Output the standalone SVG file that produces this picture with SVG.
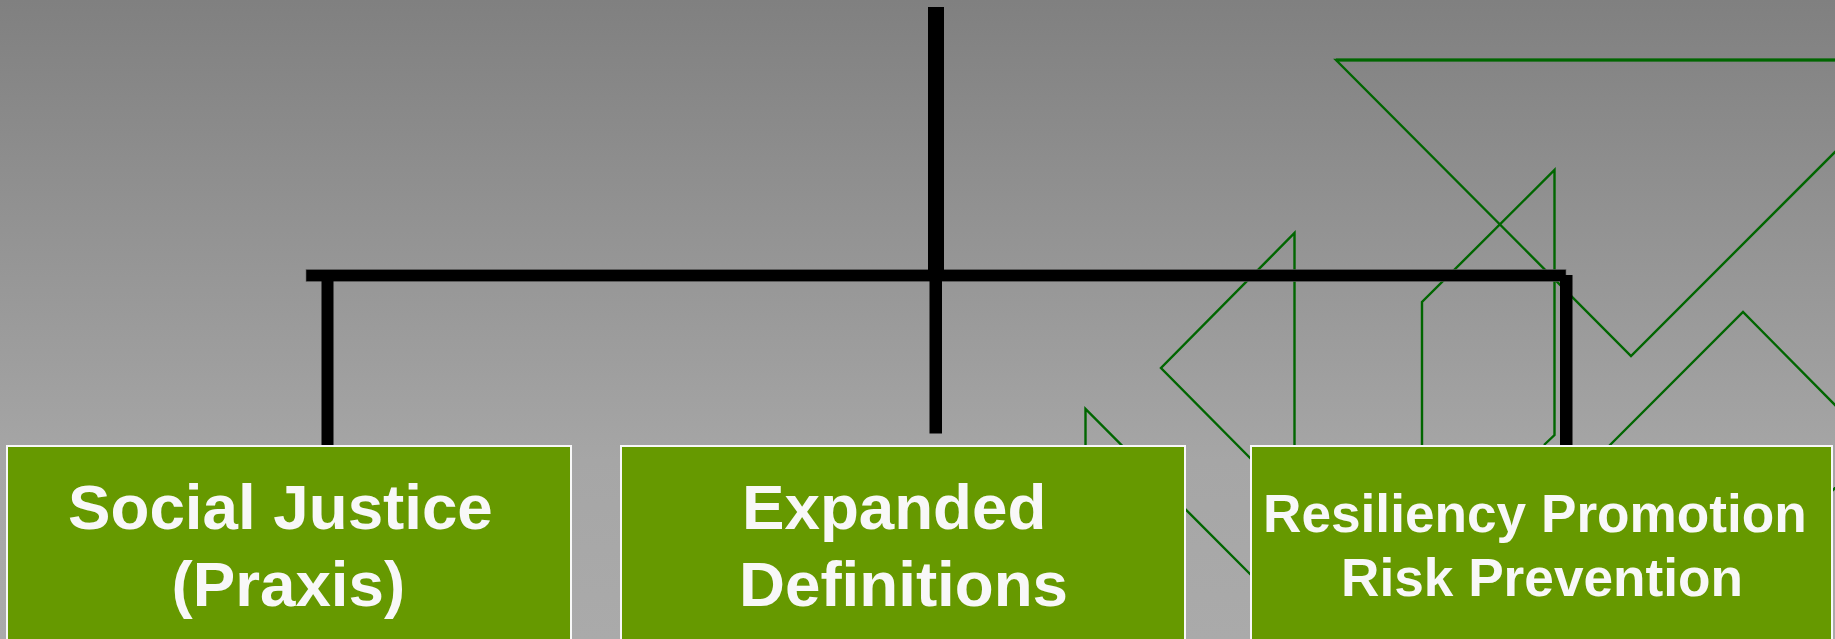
<svg xmlns="http://www.w3.org/2000/svg" width="1835" height="639" viewBox="0 0 1835 639">
  <defs>
    <linearGradient id="backdrop" x1="0" y1="0" x2="0" y2="1">
      <stop offset="0" stop-color="#808080"/>
      <stop offset="0.72" stop-color="#a6a6a6"/>
      <stop offset="1" stop-color="#aaaaaa"/>
    </linearGradient>
  </defs>
  <style>
    .motif { fill: none; stroke: #006600; stroke-width: 2.4; }
    .bar { fill: #000000; stroke: #666666; stroke-width: 0.6; }
    .stem { fill: #000000; }
    .box { fill: #669900; stroke: #f8f8f8; stroke-width: 2; }
    .label { fill: #f8f8f8; font-family: "Liberation Sans", Arial, sans-serif; font-weight: 700; }
    .big { font-size: 63.700px; }
    .small { font-size: 53.200px; }
  </style>
  <rect width="1835" height="639" fill="url(#backdrop)"/>
  <!-- Decorative outline shapes behind the boxes -->
  <g id="motif">
    <path class="motif" d="M1840 60H1336L1631 356L1840 147"/>
    <path class="motif" style="stroke-width:3" d="M1840 60H1336"/>
    <path class="motif" d="M1544 445L1554.500 435V170L1422 302V450"/>
    <path class="motif" d="M1294.500 450V233L1161 368L1260 468"/>
    <path class="motif" d="M1085.500 450V409L1260 584"/>
    <path class="motif" d="M1605 450L1743 312L1840 410"/>
    <path class="motif" d="M1840 483L1830 493"/>
  </g>
  <g id="connectors">
    <rect class="bar" x="306" y="269.500" width="1260" height="12"/>
    <rect class="stem" x="928" y="7" width="16" height="268"/>
    <rect class="stem" x="929.500" y="275" width="12.500" height="158.500"/>
    <rect class="stem" x="321.500" y="275" width="12" height="171"/>
    <rect class="stem" x="1560" y="275" width="12.500" height="171"/>
  </g>
  <g id="node-social-justice">
    <rect class="box" x="7" y="446" width="564" height="200"/>
    <text class="label big" x="68" y="529">Social Justice</text>
    <text class="label big" x="171.500" y="605.500">(Praxis)</text>
  </g>
  <g id="node-expanded-definitions">
    <rect class="box" x="621" y="446" width="564" height="200"/>
    <text class="label big" x="742" y="529">Expanded</text>
    <text class="label big" x="739" y="605.500">Definitions</text>
  </g>
  <g id="node-resiliency">
    <rect class="box" x="1251" y="446" width="581" height="200"/>
    <text class="label small" x="1263" y="531.500">Resiliency Promotion</text>
    <text class="label small" x="1341" y="595.500">Risk Prevention</text>
  </g>
</svg>
